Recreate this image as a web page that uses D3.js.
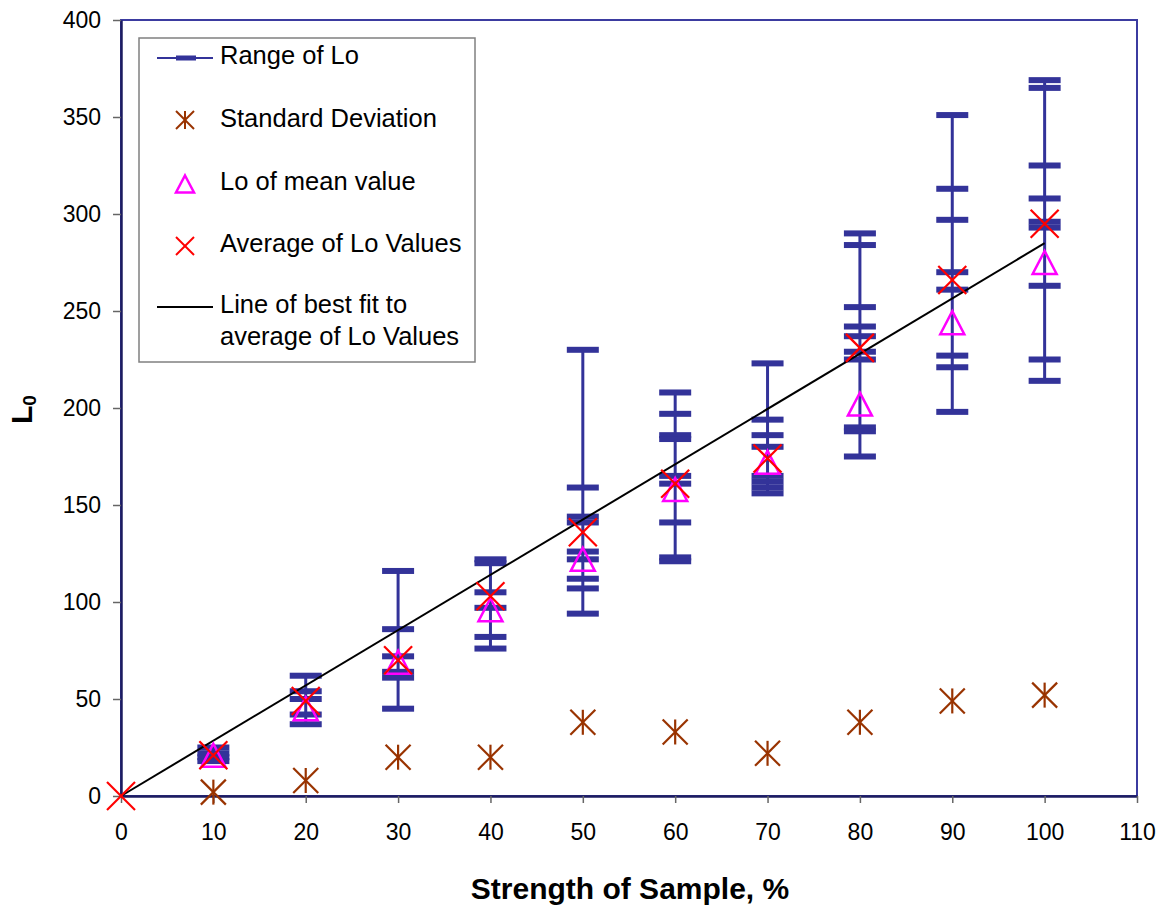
<!DOCTYPE html>
<html>
<head>
<meta charset="utf-8">
<script src="https://cdn.jsdelivr.net/npm/d3@7"></script>
<style>
  body { margin: 0; background: #fff; }
  svg { display: block; font-family: "Liberation Sans", Arial, sans-serif; }
</style>
</head>
<body>
<svg id="chart" width="1172" height="914"></svg>
<script>
// strength of sample, %
var strength = [10, 20, 30, 40, 50, 60, 70, 80, 90, 100];

// individual Lo values at each strength (range of Lo)
var loValues = [
  [25, 22, 20, 18],
  [62, 54, 50, 42, 37],
  [116, 86, 72, 64, 61, 45],
  [122, 120, 105, 97, 82, 76],
  [230, 159, 144, 141, 126, 122, 112, 107, 94],
  [208, 197, 186, 184, 165, 161, 141, 123, 121],
  [223, 194, 186, 180, 165, 162, 159, 156],
  [290, 284, 252, 242, 237, 229, 225, 190, 188, 175],
  [351, 313, 297, 270, 261, 227, 221, 198],
  [369, 365, 325, 308, 296, 293, 263, 225, 214]
];

var stdDev = [2, 8, 20, 20, 38, 33, 22, 38, 49, 52];
var loOfMean = [21, 45, 69, 96, 122, 158, 172, 202, 244, 275];
var avgX = [0, 10, 20, 30, 40, 50, 60, 70, 80, 90, 100];
var avgLo = [0, 21, 49, 70, 103, 136, 161, 174, 231, 266, 295];

// best fit line end points
var fitX = [0, 100];
var fitY = [0, 285];

var xTicks = [0, 10, 20, 30, 40, 50, 60, 70, 80, 90, 100, 110];
var yTicks = [0, 50, 100, 150, 200, 250, 300, 350, 400];

var legendLabels = ["Range of Lo", "Standard Deviation", "Lo of mean value", "Average of Lo Values", ["Line of best fit to", "average of Lo Values"]];

var rangeColor = "#333399", sdColor = "#993300", meanColor = "#ff00ff", avgColor = "#ff0000";

var svg = d3.select("#chart");
var m = {l: 121, r: 1137, t: 20, b: 796};

var x = d3.scaleLinear().domain([0, 110]).range([m.l, m.r]);
var y = d3.scaleLinear().domain([0, 400]).range([m.b, m.t]);

// plot area border
svg.append("rect")
  .attr("x", m.l).attr("y", m.t)
  .attr("width", m.r - m.l).attr("height", m.b - m.t)
  .attr("fill", "none").attr("stroke", "#3b3ba0").attr("stroke-width", 2);

// axes
var yAxis = svg.append("g").attr("transform", "translate(" + m.l + ",0)")
  .call(d3.axisLeft(y).tickValues(yTicks).tickSizeInner(8).tickSizeOuter(0).tickPadding(12));
var xAxis = svg.append("g").attr("transform", "translate(0," + m.b + ")")
  .call(d3.axisBottom(x).tickValues(xTicks).tickSizeInner(7).tickSizeOuter(0).tickPadding(21));

[xAxis, yAxis].forEach(function(a){
  a.select(".domain").attr("stroke", "#1c1c60").attr("stroke-width", 2.5);
  a.selectAll(".tick line").attr("stroke", "#666").attr("stroke-width", 1.5);
  a.selectAll(".tick text").attr("font-size", 23).attr("fill", "#000")
    .attr("font-family", "Liberation Sans, Arial, sans-serif");
});

// axis titles
svg.append("text")
  .attr("x", 630).attr("y", 899)
  .attr("text-anchor", "middle")
  .attr("font-size", 30).attr("font-weight", "bold")
  .text("Strength of Sample, %");

var yt = svg.append("text")
  .attr("transform", "translate(32,424) rotate(-90)")
  .attr("font-size", 30).attr("font-weight", "bold");
yt.append("tspan").text("L");
yt.append("tspan").attr("font-size", 19).attr("dy", 4).text("0");

// marker helpers
function asterisk(g, h){
  g.append("line").attr("x1", 0).attr("y1", -h).attr("x2", 0).attr("y2", h);
  g.append("line").attr("x1", -h).attr("y1", -h).attr("x2", h).attr("y2", h);
  g.append("line").attr("x1", -h).attr("y1", h).attr("x2", h).attr("y2", -h);
}
function cross(g, h){
  g.append("line").attr("x1", -h).attr("y1", -h).attr("x2", h).attr("y2", h);
  g.append("line").attr("x1", -h).attr("y1", h).attr("x2", h).attr("y2", -h);
}
function tri(w, hgt){
  return "M0," + (-hgt / 2) + "L" + (w / 2) + "," + (hgt / 2) + "L" + (-w / 2) + "," + (hgt / 2) + "Z";
}

// range of Lo: vertical line from min to max, dash for each value
var rangeG = svg.append("g");
strength.forEach(function(s, i){
  var vals = loValues[i];
  rangeG.append("line")
    .attr("x1", x(s)).attr("x2", x(s))
    .attr("y1", y(d3.min(vals))).attr("y2", y(d3.max(vals)))
    .attr("stroke", rangeColor).attr("stroke-width", 3);
  rangeG.selectAll(null).data(vals).enter().append("rect")
    .attr("x", x(s) - 16).attr("width", 32)
    .attr("y", function(d){ return y(d) - 3; }).attr("height", 6)
    .attr("fill", rangeColor);
});

// best fit line
svg.append("line")
  .attr("x1", x(fitX[0])).attr("y1", y(fitY[0]))
  .attr("x2", x(fitX[1])).attr("y2", y(fitY[1]))
  .attr("stroke", "#000").attr("stroke-width", 2);

// standard deviation
strength.forEach(function(s, i){
  var g = svg.append("g").attr("transform", "translate(" + x(s) + "," + y(stdDev[i]) + ")")
    .attr("stroke", sdColor).attr("stroke-width", 2.2);
  asterisk(g, 12.5);
});

// Lo of mean value
svg.selectAll(".mean").data(loOfMean).enter().append("path")
  .attr("class", "mean")
  .attr("transform", function(d, i){ return "translate(" + x(strength[i]) + "," + y(d) + ")"; })
  .attr("d", tri(24, 23))
  .attr("fill", "none").attr("stroke", meanColor).attr("stroke-width", 2.5);

// average of Lo values
avgLo.forEach(function(v, i){
  var g = svg.append("g").attr("transform", "translate(" + x(avgX[i]) + "," + y(v) + ")")
    .attr("stroke", avgColor).attr("stroke-width", 2.2);
  cross(g, 14);
});

// legend
var lg = svg.append("g");
lg.append("rect").attr("x", 139).attr("y", 38).attr("width", 336).attr("height", 324)
  .attr("fill", "#fff").attr("stroke", "#808080").attr("stroke-width", 1.5);

var rows = [58, 120, 184, 246, 307];
var mx = 185;

lg.append("line").attr("x1", 157).attr("x2", 213).attr("y1", rows[0]).attr("y2", rows[0])
  .attr("stroke", rangeColor).attr("stroke-width", 2);
lg.append("rect").attr("x", 176).attr("width", 20).attr("y", rows[0] - 2.5).attr("height", 5)
  .attr("fill", rangeColor);

asterisk(lg.append("g").attr("transform", "translate(" + mx + "," + rows[1] + ")")
  .attr("stroke", sdColor).attr("stroke-width", 2), 9);
lg.append("path").attr("transform", "translate(" + mx + "," + rows[2] + ")")
  .attr("d", tri(18, 17)).attr("fill", "none").attr("stroke", meanColor).attr("stroke-width", 2.5);
cross(lg.append("g").attr("transform", "translate(" + mx + "," + rows[3] + ")")
  .attr("stroke", avgColor).attr("stroke-width", 2), 9);
lg.append("line").attr("x1", 157).attr("x2", 213).attr("y1", rows[4]).attr("y2", rows[4])
  .attr("stroke", "#000").attr("stroke-width", 2);

legendLabels.forEach(function(lab, i){
  var t = lg.append("text").attr("x", 220)
    .attr("font-size", 25.5).attr("fill", "#000");
  if (Array.isArray(lab)) {
    t.attr("y", 313);
    t.append("tspan").attr("x", 220).text(lab[0]);
    t.append("tspan").attr("x", 220).attr("dy", 32).text(lab[1]);
  } else {
    t.attr("y", [64, 127, 190, 252][i]).text(lab);
  }
});
</script>
</body>
</html>
